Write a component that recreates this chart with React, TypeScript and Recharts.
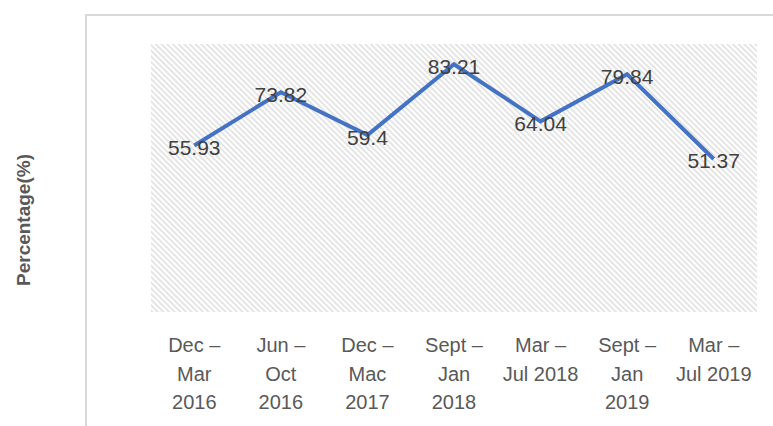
import { CartesianGrid, LabelList, Line, LineChart, XAxis, YAxis } from "recharts";

const periods = [
  "Dec –\nMar\n2016",
  "Jun –\nOct\n2016",
  "Dec –\nMac\n2017",
  "Sept –\nJan\n2018",
  "Mar –\nJul 2018",
  "Sept –\nJan\n2019",
  "Mar –\nJul 2019",
];
const percentages = [55.93, 73.82, 59.4, 83.21, 64.04, 79.84, 51.37];

const chartData = periods.map((period, i) => ({ period, value: percentages[i] }));

const FONT = "'Liberation Sans', Arial, sans-serif";

function PeriodTick({ x, y, payload }: any) {
  const lines = String(payload.value).split("\n");
  return (
    <text x={x} y={y} textAnchor="middle" fill="#595959" fontSize={20} fontFamily={FONT}>
      {lines.map((line, i) => (
        <tspan key={i} x={x} dy={i === 0 ? 40 : 28.5}>
          {line}
        </tspan>
      ))}
    </text>
  );
}

export default function App() {
  return (
    <div
      style={{
        position: "absolute",
        left: 0,
        top: 0,
        width: 773,
        height: 426,
        overflow: "hidden",
        background: "#ffffff",
      }}
    >
      <div
        style={{
          position: "absolute",
          left: 85,
          top: 14,
          width: 900,
          height: 600,
          border: "2px solid #d9d9d9",
        }}
      />
      <div
        style={{
          position: "absolute",
          left: 24,
          top: 220,
          transform: "translate(-50%, -50%) rotate(-90deg)",
          whiteSpace: "nowrap",
          fontFamily: FONT,
          fontWeight: "bold",
          fontSize: 19,
          color: "#595959",
        }}
      >
        Percentage(%)
      </div>
      <div style={{ position: "absolute", left: 0, top: 0 }}>
        <LineChart width={773} height={426} data={chartData} margin={{ top: 44, right: 16, bottom: 0, left: 151 }}>
          <defs>
            <pattern id="hatch" patternUnits="userSpaceOnUse" width={4} height={4} patternTransform="rotate(45)">
              <rect x={0} y={0} width={4} height={4} fill="#ffffff" />
              <line x1={0} y1={1} x2={4} y2={1} stroke="#dadada" strokeWidth={1.4} />
            </pattern>
          </defs>
          <CartesianGrid horizontal={false} vertical={false} fill="url(#hatch)" stroke="none" />
          <XAxis
            dataKey="period"
            scale="band"
            axisLine={false}
            tickLine={false}
            tickSize={0}
            tickMargin={0}
            interval={0}
            height={114}
            tick={<PeriodTick />}
          />
          <YAxis hide domain={[0, 90]} />
          <Line
            type="linear"
            dataKey="value"
            stroke="#4472C4"
            strokeWidth={4}
            dot={false}
            activeDot={false}
            isAnimationActive={false}
          >
            <LabelList
              dataKey="value"
              position="center"
              fill="#404040"
              fontSize={21}
              fontFamily={FONT}
              dy={2}
            />
          </Line>
        </LineChart>
      </div>
    </div>
  );
}
